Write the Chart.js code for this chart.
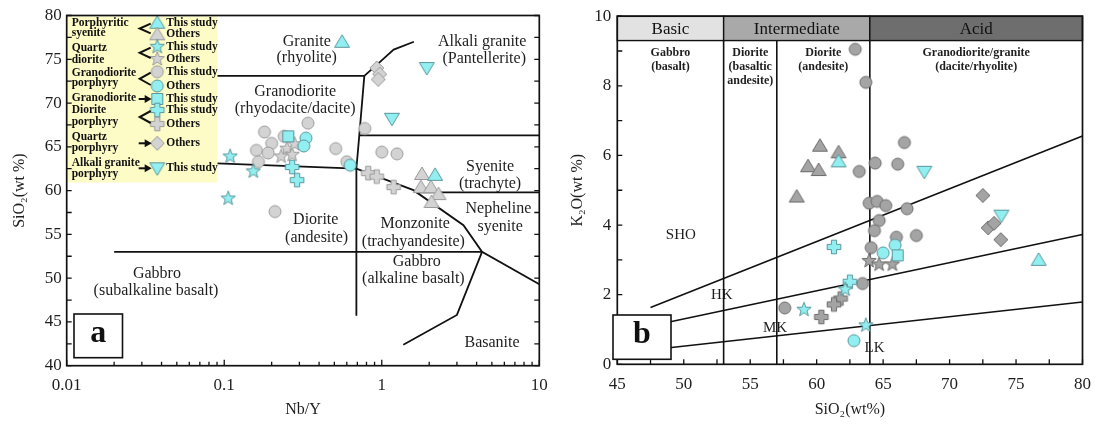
<!DOCTYPE html>
<html>
<head>
<meta charset="utf-8">
<script src="https://cdn.jsdelivr.net/npm/chart.js@4.4.1/dist/chart.umd.min.js"></script>
<style>
  html, body { margin: 0; padding: 0; background: #fff; }
  #wrap { position: relative; width: 1101px; height: 424px; overflow: hidden; }
  #chartA { position: absolute; left: 0; top: 0; }
  #chartB { position: absolute; left: 560px; top: 0; }
</style>
</head>
<body>
<div id="wrap">
  <canvas id="chartA" width="560" height="424"></canvas>
  <canvas id="chartB" width="541" height="424"></canvas>
</div>
<script>
// ============================================================
// (a) Nb/Y vs SiO2   (b) SiO2 vs K2O
// ============================================================

// ---- panel a data: [Nb/Y, SiO2] ----
const aTriCyan = [[0.56, 77.0], [2.18, 61.8]];
const aTriGray = [[1.8, 61.9], [1.77, 60.4], [2.05, 60.4], [2.29, 59.6], [2.07, 58.7]];
const aStarCyan = [[0.109, 63.9], [0.153, 62.2], [0.106, 59.1]];
const aStarGray = [[0.25, 64.8], [0.27, 64.1], [0.23, 63.9], [0.28, 65.3]];
const aCircGray = [[0.78, 67.1], [1.0, 64.4], [1.25, 64.2], [0.51, 64.8], [0.6, 63.3], [0.34, 67.7],
  [0.18, 66.7], [0.24, 66.2], [0.2, 65.4], [0.16, 64.6], [0.19, 64.3], [0.165, 63.3], [0.21, 57.6]];
const aCircCyan = [[0.63, 62.9], [0.33, 66.0], [0.32, 65.1]];
const aSquareCyan = [[0.255, 66.2]];
const aCrossCyan = [[0.27, 62.7], [0.29, 61.2]];
const aCrossGray = [[0.82, 62.0], [0.93, 61.6], [1.19, 60.4]];
const aDiamondGray = [[0.93, 74.0], [0.97, 73.3], [0.95, 72.7]];
const aInvTriCyan = [[1.93, 74.0], [1.16, 68.2]];

// field boundaries, panel a
const aLines = [
  [[0.09, 73.1], [0.775, 73.1]],
  [[0.775, 73.1], [0.975, 74.7], [1.19, 76.1], [1.6, 77.0]],
  [[0.775, 73.1], [0.72, 66.3], [0.69, 62.5], [0.69, 45.7]],
  [[0.72, 66.3], [10, 66.3]],
  [[0.09, 63.1], [0.69, 62.5], [1.59, 60.05], [3.3, 56.05], [4.33, 53.0], [10, 49.3]],
  [[1.65, 59.8], [10, 59.8]],
  [[0.02, 53.0], [4.33, 53.0]],
  [[4.33, 53.0], [3.0, 45.8], [1.37, 42.4]]
];
const aXTicks = [0.01, 0.1, 1, 10];
const aYTicks = [40, 45, 50, 55, 60, 65, 70, 75, 80];

const aFieldLabels = [
  ['Granite', 0.334, 77.0], ['(rhyolite)', 0.334, 75.2],
  ['Alkali granite', 4.34, 76.95], ['(Pantellerite)', 4.47, 75.1],
  ['Granodiorite', 0.282, 71.28], ['(rhyodacite/dacite)', 0.282, 69.3],
  ['Syenite', 4.87, 62.7], ['(trachyte)', 4.87, 60.8],
  ['Nepheline', 5.5, 57.97], ['syenite', 5.64, 55.87],
  ['Diorite', 0.381, 56.63], ['(andesite)', 0.386, 54.66],
  ['Monzonite', 1.627, 56.18], ['(trachyandesite)', 1.587, 54.16],
  ['Gabbro', 1.667, 51.87], ['(alkaline basalt)', 1.587, 49.98],
  ['Gabbro', 0.0374, 50.55], ['(subalkaline basalt)', 0.0369, 48.53],
  ['Basanite', 5.01, 42.6]
];

// ---- panel b data: [SiO2, K2O] ----
const bCircGray = [[62.9, 9.05], [63.7, 8.1], [66.6, 6.37], [64.4, 5.78], [66.1, 5.75], [63.2, 5.54],
  [63.95, 4.63], [64.55, 4.68], [65.2, 4.56], [66.8, 4.47], [64.7, 4.13], [64.35, 3.84], [66.0, 3.65],
  [67.5, 3.7], [64.1, 3.35], [63.45, 2.32], [57.6, 1.62]];
const bCircCyan = [[65.0, 3.2], [65.9, 3.42], [62.8, 0.68]];
const bSquareCyan = [[66.1, 3.13]];
const bStarGray = [[63.95, 2.97], [64.7, 2.87], [65.7, 2.87]];
const bStarCyan = [[62.15, 2.15], [59.05, 1.57], [63.7, 1.12]];
const bCrossCyan = [[61.3, 3.37], [62.5, 2.37]];
const bCrossGray = [[61.8, 1.89], [61.3, 1.72], [60.35, 1.36]];
const bTriGray = [[60.25, 6.28], [61.65, 6.09], [59.35, 5.69], [60.15, 5.58], [58.5, 4.82]];
const bTriCyan = [[61.65, 5.83], [76.7, 3.0]];
const bDiamondGray = [[72.5, 4.85], [72.9, 3.92], [73.35, 4.05], [73.85, 3.58]];
const bInvTriCyan = [[68.1, 5.53], [73.9, 4.27]];

const bLines = [
  [[47.5, 1.63], [80, 6.56]],
  [[45, 0.9], [80, 3.73]],
  [[45, 0.31], [80, 1.79]],
  [[53, 0], [53, 9.3]],
  [[57, 0], [57, 9.3]],
  [[64, 0], [64, 9.3]]
];
const bBands = [['Basic', 45, 53, '#e2e2e2'], ['Intermediate', 53, 64, '#a9a9a9'], ['Acid', 64, 80, '#6e6e6e']];
const bBandBase = 9.3;
const bXTicks = [45, 50, 55, 60, 65, 70, 75, 80];
const bYTicks = [0, 2, 4, 6, 8, 10];

const bFieldLabels = [
  ['Gabbro', 49, 8.95], ['(basalt)', 49, 8.55],
  ['Diorite', 55, 8.95], ['(basaltic', 55, 8.55], ['andesite)', 55, 8.14],
  ['Diorite', 60.5, 8.95], ['(andesite)', 60.5, 8.55],
  ['Granodiorite/granite', 72, 8.95], ['(dacite/rhyolite)', 72, 8.55]
];
const bSeriesLabels = [['SHO', 49.78, 3.7], ['HK', 52.86, 1.98], ['MK', 56.87, 1.03], ['LK', 64.36, 0.46]];

// ============================================================
const SERIF = "'Liberation Serif', 'Times New Roman', serif";
const INK = '#1e1e1e';
Chart.defaults.font.family = SERIF;
Chart.defaults.color = INK;

const CYAN = ['#92eff1', '#5a969b'];
const GRAY_A = ['#d3d3d3', '#9a9a9a'];
const GRAY_B = ['#a4a4a4', '#6b6b6b'];

function marker(shape, colors) {
  const S = 18;
  const c = document.createElement('canvas');
  c.width = S; c.height = S;
  const g = c.getContext('2d');
  g.translate(S / 2, S / 2);
  g.beginPath();
  if (shape === 'circle') {
    g.arc(0, 0, 6, 0, Math.PI * 2);
  } else if (shape === 'square') {
    g.rect(-5.5, -5.5, 11, 11);
  } else if (shape === 'diamond') {
    g.moveTo(0, -7); g.lineTo(7, 0); g.lineTo(0, 7); g.lineTo(-7, 0); g.closePath();
  } else if (shape === 'tri') {
    g.moveTo(0, -7); g.lineTo(7.5, 5.5); g.lineTo(-7.5, 5.5); g.closePath();
  } else if (shape === 'invtri') {
    g.moveTo(0, 7); g.lineTo(7.5, -5.5); g.lineTo(-7.5, -5.5); g.closePath();
  } else if (shape === 'star') {
    for (let i = 0; i < 10; i++) {
      const r = i % 2 ? 3.1 : 7.5;
      const a = -Math.PI / 2 + i * Math.PI / 5;
      g.lineTo(r * Math.cos(a), r * Math.sin(a));
    }
    g.closePath();
  } else if (shape === 'plus') {
    const a = 2.6, b = 6.8;
    [[-a, -b], [a, -b], [a, -a], [b, -a], [b, a], [a, a], [a, b], [-a, b], [-a, a], [-b, a], [-b, -a], [-a, -a]]
      .forEach(p => g.lineTo(p[0], p[1]));
    g.closePath();
  }
  g.fillStyle = colors[0];
  g.fill();
  g.lineWidth = 1;
  g.strokeStyle = colors[1];
  g.stroke();
  return c;
}

const pts = arr => arr.map(p => ({ x: p[0], y: p[1] }));
const markerSet = (arr, img) => ({ data: pts(arr), pointStyle: img, pointRadius: 7, showLine: false, order: 0 });
const lineSet = (arr, w) => ({
  data: pts(arr), showLine: true, pointRadius: 0, borderColor: '#111', borderWidth: w,
  fill: false, tension: 0, order: 5
});

function drawText(chart, list, font) {
  const { ctx, scales: { x, y } } = chart;
  ctx.save();
  ctx.font = font;
  ctx.fillStyle = INK;
  ctx.textAlign = 'center';
  ctx.textBaseline = 'middle';
  list.forEach(l => ctx.fillText(l[0], x.getPixelForValue(l[1]), y.getPixelForValue(l[2])));
  ctx.restore();
}

// inward tick marks along chosen edges
function tickMarks(chart, marks) {
  const { ctx, chartArea: ca, scales: { x, y } } = chart;
  ctx.save();
  ctx.strokeStyle = '#111';
  ctx.lineWidth = 1.3;
  ctx.beginPath();
  marks.forEach(m => {
    m.values.forEach(v => {
      if (m.side === 'bottom') {
        const px = x.getPixelForValue(v);
        ctx.moveTo(px, ca.bottom); ctx.lineTo(px, ca.bottom - m.len);
      } else {
        const py = y.getPixelForValue(v);
        const x0 = m.side === 'left' ? ca.left : ca.right;
        const dir = m.side === 'left' ? 1 : -1;
        ctx.moveTo(x0, py); ctx.lineTo(x0 + dir * m.len, py);
      }
    });
  });
  ctx.stroke();
  ctx.restore();
}

function frame(chart) {
  const { ctx, chartArea: ca } = chart;
  ctx.save();
  ctx.strokeStyle = '#111';
  ctx.lineWidth = 1.7;
  ctx.strokeRect(ca.left, ca.top, ca.right - ca.left, ca.bottom - ca.top);
  ctx.restore();
}

function letterBox(chart, letter, dx, dyBottom, w, h) {
  const { ctx, chartArea: ca } = chart;
  const x0 = ca.left + dx, y0 = ca.bottom - dyBottom;
  ctx.save();
  ctx.fillStyle = '#fff';
  ctx.fillRect(x0, y0, w, h);
  ctx.strokeStyle = '#111';
  ctx.lineWidth = 1.6;
  ctx.strokeRect(x0, y0, w, h);
  ctx.fillStyle = '#111';
  ctx.font = 'bold 32px ' + SERIF;
  ctx.textAlign = 'center';
  ctx.textBaseline = 'middle';
  ctx.fillText(letter, x0 + w / 2, y0 + h / 2 - 2);
  ctx.restore();
}

// ---- marker images ----
const M = {
  triCyan: marker('tri', CYAN), triGrayA: marker('tri', GRAY_A), triGrayB: marker('tri', GRAY_B),
  starCyan: marker('star', CYAN), starGrayA: marker('star', GRAY_A), starGrayB: marker('star', GRAY_B),
  circCyan: marker('circle', CYAN), circGrayA: marker('circle', GRAY_A), circGrayB: marker('circle', GRAY_B),
  squareCyan: marker('square', CYAN),
  plusCyan: marker('plus', CYAN), plusGrayA: marker('plus', GRAY_A), plusGrayB: marker('plus', GRAY_B),
  diaGrayA: marker('diamond', GRAY_A), diaGrayB: marker('diamond', GRAY_B),
  invCyan: marker('invtri', CYAN)
};

// ---- legend of panel a (yellow box) ----
function drawLegendA(chart) {
  const { ctx, chartArea: ca } = chart;
  const L = ca.left, T = ca.top;
  ctx.save();
  ctx.fillStyle = '#fdfbc6';
  ctx.fillRect(L + 0.8, T + 1, 150, 166);

  const groups = [
    { name: [['Porphyritic', 7.2], ['syenite', 17.8]], items: [[M.triCyan, 'This study', 7.2], [M.triGrayA, 'Others', 18.8]], link: 'bracket' },
    { name: [['Quartz', 32.8], ['diorite', 44.5]], items: [[M.starCyan, 'This study', 31.2], [M.starGrayA, 'Others', 43.5]], link: 'bracket' },
    { name: [['Granodiorite', 57.2], ['porphyry', 67.8]], items: [[M.circGrayA, 'This study', 56.2], [M.circCyan, 'Others', 70.5]], link: 'bracket' },
    { name: [['Granodiorite', 82.8]], items: [[M.squareCyan, 'This study', 83.5]], link: 'arrow' },
    { name: [['Diorite', 94.5], ['porphyry', 106.8]], items: [[M.plusCyan, 'This study', 94.5], [M.plusGrayA, 'Others', 108.5]], link: 'bracket' },
    { name: [['Quartz', 121.2], ['porphyry', 132.2]], items: [[M.diaGrayA, 'Others', 127.8]], link: 'arrow' },
    { name: [['Alkali granite', 147.2], ['porphyry', 158.5]], items: [[M.invCyan, 'This study', 152.8]], link: 'arrow' }
  ];

  ctx.fillStyle = '#111';
  ctx.font = 'bold 11.5px ' + SERIF;
  ctx.textBaseline = 'middle';
  ctx.textAlign = 'left';
  ctx.strokeStyle = '#111';
  ctx.lineWidth = 2;
  groups.forEach(gp => {
    gp.name.forEach(n => ctx.fillText(n[0], L + 5, T + n[1]));
    gp.items.forEach(it => {
      ctx.drawImage(it[0], L + 90.6 - 9, T + it[2] - 9);
      ctx.fillText(it[1], L + 99.5, T + it[2]);
    });
    if (gp.link === 'bracket') {
      const y1 = gp.items[0][2] + 1, y2 = gp.items[1][2] - 1;
      const ym = (y1 + y2) / 2;
      ctx.beginPath();
      ctx.moveTo(L + 84, T + y1);
      ctx.lineTo(L + 73, T + ym);
      ctx.lineTo(L + 84, T + y2);
      ctx.stroke();
    } else {
      const ya = gp.items[0][2];
      ctx.beginPath();
      ctx.moveTo(L + 72, T + ya);
      ctx.lineTo(L + 80, T + ya);
      ctx.stroke();
      ctx.beginPath();
      ctx.moveTo(L + 85, T + ya);
      ctx.lineTo(L + 78, T + ya - 4);
      ctx.lineTo(L + 78, T + ya + 4);
      ctx.closePath();
      ctx.fill();
    }
  });
  ctx.restore();
}

// ---- header band of panel b ----
function drawBandsB(chart) {
  const { ctx, chartArea: ca, scales: { x, y } } = chart;
  const yb = y.getPixelForValue(bBandBase);
  ctx.save();
  bBands.forEach(b => {
    const x0 = x.getPixelForValue(b[1]), x1 = x.getPixelForValue(b[2]);
    ctx.fillStyle = b[3];
    ctx.fillRect(x0, ca.top, x1 - x0, yb - ca.top);
    ctx.strokeStyle = '#111';
    ctx.lineWidth = 1.4;
    ctx.strokeRect(x0, ca.top, x1 - x0, yb - ca.top);
    ctx.fillStyle = '#111';
    ctx.font = '17px ' + SERIF;
    ctx.textAlign = 'center';
    ctx.textBaseline = 'middle';
    ctx.fillText(b[0], (x0 + x1) / 2, (ca.top + yb) / 2 + 1);
  });
  ctx.restore();
}

const minorLog = [];
[0.01, 0.1, 1].forEach(d => { for (let k = 2; k <= 9; k++) minorLog.push(k * d); });
const steps = (a, b, s) => { const r = []; for (let v = a; v <= b + 1e-9; v += s) r.push(v); return r; };

// ============================================================
// Chart a
// ============================================================
const datasetsA = [
  markerSet(aTriCyan, M.triCyan), markerSet(aInvTriCyan, M.invCyan),
  markerSet(aStarCyan, M.starCyan), markerSet(aCrossCyan, M.plusCyan),
  markerSet(aSquareCyan, M.squareCyan), markerSet(aCircCyan, M.circCyan),
  markerSet(aStarGray, M.starGrayA), markerSet(aCircGray, M.circGrayA),
  markerSet(aCrossGray, M.plusGrayA), markerSet(aTriGray, M.triGrayA),
  markerSet(aDiamondGray, M.diaGrayA),
  ...aLines.map(l => lineSet(l, 1.8))
];

new Chart(document.getElementById('chartA'), {
  type: 'scatter',
  data: { datasets: datasetsA },
  options: {
    responsive: false,
    animation: false,
    events: [],
    layout: { padding: { left: 0, top: 15.5, right: 20.7, bottom: 0 } },
    plugins: { legend: { display: false }, tooltip: { enabled: false } },
    scales: {
      x: {
        type: 'logarithmic', min: 0.01, max: 10,
        grid: { display: false, drawTicks: false },
        border: { display: false },
        afterBuildTicks: s => { s.ticks = aXTicks.map(v => ({ value: v })); },
        ticks: { autoSkip: false, maxRotation: 0, padding: 10, font: { size: 17 }, callback: v => String(v) },
        title: { display: true, text: 'Nb/Y', font: { size: 16 }, padding: { top: 0, bottom: 5 } },
        afterFit: s => { s.height = 58.3; }
      },
      y: {
        min: 40, max: 80,
        grid: { display: false, drawTicks: false },
        border: { display: false },
        afterBuildTicks: s => { s.ticks = aYTicks.map(v => ({ value: v })); },
        ticks: { autoSkip: false, padding: 5, font: { size: 17 } },
        title: { display: true, text: 'SiO₂(wt %)', font: { size: 16 }, padding: { top: 10, bottom: 0 } },
        afterFit: s => { s.width = 66.7; }
      }
    }
  },
  plugins: [{
    id: 'panelA',
    beforeDatasetsDraw(chart) {
      drawText(chart, aFieldLabels, '16px ' + SERIF);
    },
    afterDatasetsDraw(chart) {
      drawLegendA(chart);
      tickMarks(chart, [
        { side: 'bottom', values: aXTicks, len: 6 },
        { side: 'bottom', values: minorLog, len: 4 },
        { side: 'left', values: steps(40, 80, 2.5), len: 5 },
        { side: 'right', values: steps(40, 80, 2.5), len: 5 }
      ]);
      frame(chart);
      letterBox(chart, 'a', 7.3, 51.7, 48.5, 43.7);
    }
  }]
});

// ============================================================
// Chart b
// ============================================================
const datasetsB = [
  markerSet(bTriCyan, M.triCyan), markerSet(bInvTriCyan, M.invCyan),
  markerSet(bStarCyan, M.starCyan), markerSet(bCrossCyan, M.plusCyan),
  markerSet(bSquareCyan, M.squareCyan), markerSet(bCircCyan, M.circCyan),
  markerSet(bStarGray, M.starGrayB), markerSet(bCircGray, M.circGrayB),
  markerSet(bCrossGray, M.plusGrayB), markerSet(bTriGray, M.triGrayB),
  markerSet(bDiamondGray, M.diaGrayB),
  ...bLines.map(l => lineSet(l, 1.6))
];

new Chart(document.getElementById('chartB'), {
  type: 'scatter',
  data: { datasets: datasetsB },
  options: {
    responsive: false,
    animation: false,
    events: [],
    layout: { padding: { left: 0, top: 15, right: 12, bottom: 0 } },
    plugins: { legend: { display: false }, tooltip: { enabled: false } },
    scales: {
      x: {
        min: 45, max: 80,
        grid: { display: false, drawTicks: false },
        border: { display: false },
        afterBuildTicks: s => { s.ticks = bXTicks.map(v => ({ value: v })); },
        ticks: { autoSkip: false, maxRotation: 0, padding: 10, font: { size: 17 } },
        title: { display: true, text: 'SiO₂(wt%)', font: { size: 16 }, padding: { top: 0, bottom: 5 } },
        afterFit: s => { s.height = 59.7; }
      },
      y: {
        min: 0, max: 10,
        grid: { display: false, drawTicks: false },
        border: { display: false },
        afterBuildTicks: s => { s.ticks = bYTicks.map(v => ({ value: v })); },
        ticks: { autoSkip: false, padding: 6, font: { size: 17 } },
        title: { display: true, text: 'K₂O(wt %)', font: { size: 16 }, padding: { top: 8, bottom: 0 } },
        afterFit: s => { s.width = 57.3; }
      }
    }
  },
  plugins: [{
    id: 'panelB',
    beforeDatasetsDraw(chart) {
      drawText(chart, bFieldLabels, 'bold 12px ' + SERIF);
      drawText(chart, bSeriesLabels, '15px ' + SERIF);
    },
    afterDatasetsDraw(chart) {
      drawBandsB(chart);
      tickMarks(chart, [
        { side: 'bottom', values: steps(45, 80, 2.5), len: 5 },
        { side: 'left', values: steps(0, 10, 1), len: 5 }
      ]);
      frame(chart);
      letterBox(chart, 'b', -4.3, 49.3, 58, 44.3);
    }
  }]
});
</script>
</body>
</html>
